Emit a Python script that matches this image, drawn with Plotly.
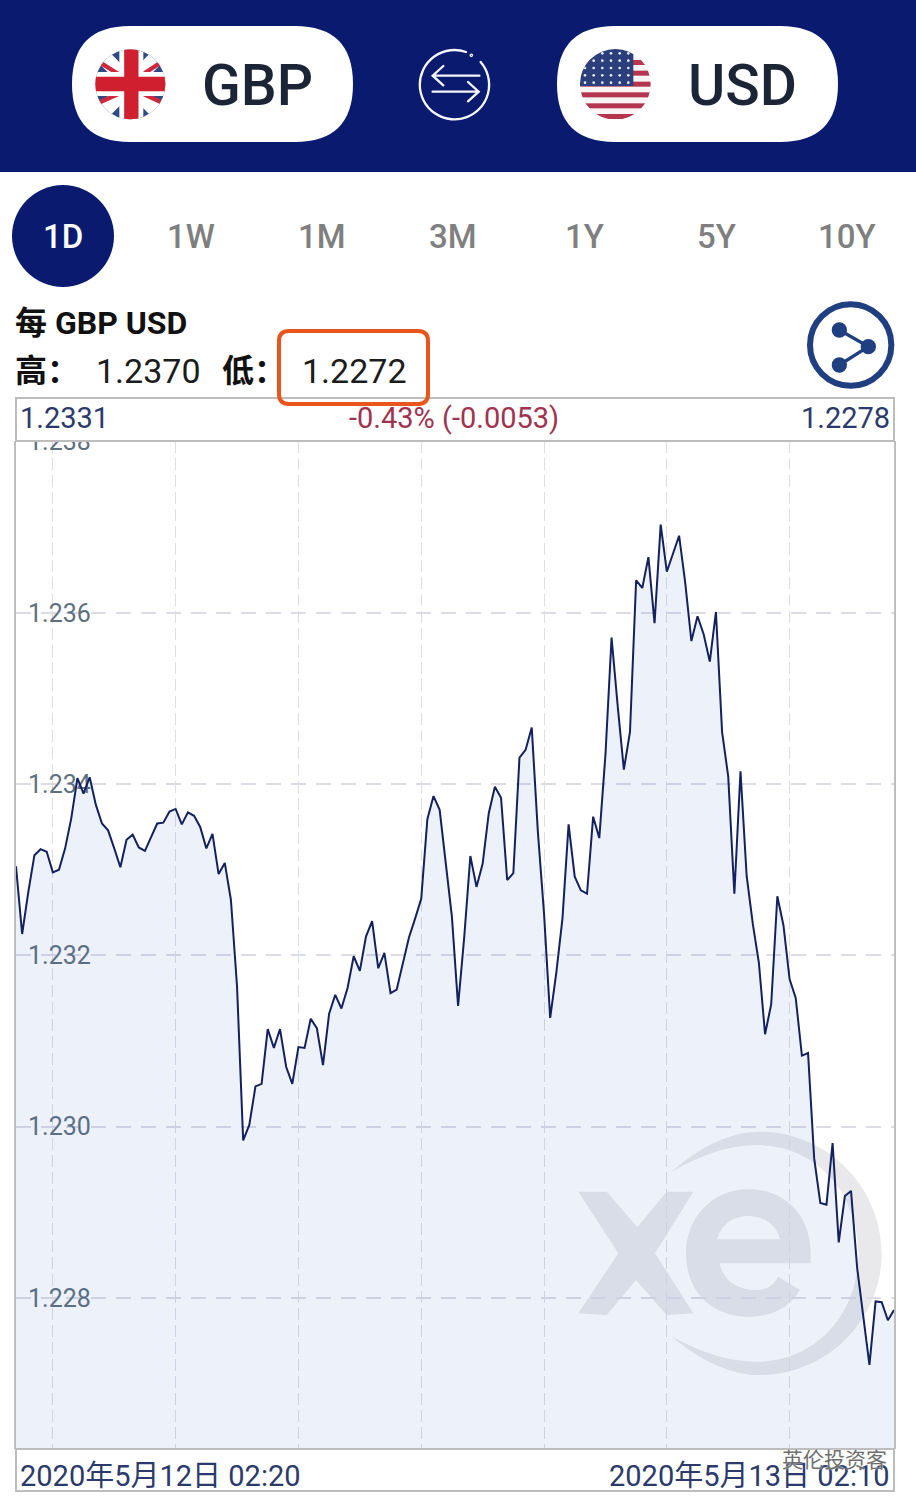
#!/usr/bin/env python
# coding: utf-8
import base64

import pandas as pd
import plotly.graph_objects as go


### data
rates = [
    1.23304, 1.23225, 1.23274, 1.23317, 1.23324, 1.23321, 1.23297, 1.23300, 1.23325, 1.23360,
    1.23407, 1.23389, 1.23408, 1.23376, 1.23354, 1.23346, 1.23325, 1.23303, 1.23335, 1.23341,
    1.23326, 1.23322, 1.23338, 1.23354, 1.23355, 1.23368, 1.23371, 1.23353, 1.23367, 1.23363,
    1.23350, 1.23325, 1.23342, 1.23295, 1.23308, 1.23265, 1.23164, 1.22984, 1.23002, 1.23047,
    1.23050, 1.23114, 1.23092, 1.23114, 1.23070, 1.23050, 1.23093, 1.23092, 1.23126, 1.23115,
    1.23072, 1.23132, 1.23154, 1.23138, 1.23162, 1.23199, 1.23182, 1.23222, 1.23240, 1.23185,
    1.23203, 1.23156, 1.23160, 1.23191, 1.23221, 1.23243, 1.23266, 1.23359, 1.23386, 1.23370,
    1.23307, 1.23245, 1.23141, 1.23221, 1.23316, 1.23280, 1.23307, 1.23366, 1.23397, 1.23384,
    1.23288, 1.23296, 1.23431, 1.23440, 1.23466, 1.23344, 1.23249, 1.23127, 1.23180, 1.23243,
    1.23353, 1.23292, 1.23276, 1.23272, 1.23362, 1.23337, 1.23434, 1.23571, 1.23491, 1.23417,
    1.23461, 1.23638, 1.23629, 1.23665, 1.23588, 1.23703, 1.23648, 1.23670, 1.23690, 1.23635,
    1.23567, 1.23596, 1.23575, 1.23543, 1.23601, 1.23461, 1.23409, 1.23272, 1.23415, 1.23293,
    1.23237, 1.23191, 1.23108, 1.23143, 1.23269, 1.23235, 1.23172, 1.23150, 1.23083, 1.23086,
    1.22963, 1.22911, 1.22909, 1.22981, 1.22865, 1.22919, 1.22925, 1.22835, 1.22777, 1.22722,
    1.22796, 1.22795, 1.22774, 1.22786,
]
times = pd.date_range('2020-05-12 02:20', periods=len(rates), freq='10min')
grid_times = ['2020-05-12 03:20', '2020-05-12 06:40', '2020-05-12 10:00', '2020-05-12 13:20',
              '2020-05-12 16:40', '2020-05-12 20:00', '2020-05-12 23:20']
y_ticks = [1.228, 1.230, 1.232, 1.234, 1.236, 1.238]
tabs = ['1W', '1M', '3M', '1Y', '5Y', '10Y']
tab_x = [191, 322, 453, 584, 716, 847]

W, H = 916, 1504
NAVY = '#0a1a6e'
INK = '#2b3a6b'
FONT = 'Roboto, Noto Sans CJK SC, sans-serif'


### helpers - everything in screen pixels, top left origin
def fx(x):
    return x / W


def fy(y):
    return 1 - y / H


def rounded(x0, y0, x1, y1, r):
    return (f'M{fx(x0 + r)},{fy(y0)} L{fx(x1 - r)},{fy(y0)} Q{fx(x1)},{fy(y0)} {fx(x1)},{fy(y0 + r)} '
            f'L{fx(x1)},{fy(y1 - r)} Q{fx(x1)},{fy(y1)} {fx(x1 - r)},{fy(y1)} '
            f'L{fx(x0 + r)},{fy(y1)} Q{fx(x0)},{fy(y1)} {fx(x0)},{fy(y1 - r)} '
            f'L{fx(x0)},{fy(y0 + r)} Q{fx(x0)},{fy(y0)} {fx(x0 + r)},{fy(y0)} Z')


shapes = []
images = []
notes = []


def box(x0, y0, x1, y1, fill, line=None, width=0, layer='below'):
    shapes.append(dict(type='rect', xref='paper', yref='paper', x0=fx(x0), x1=fx(x1), y0=fy(y1), y1=fy(y0),
                       fillcolor=fill, line=dict(color=line, width=width), layer=layer))


def round_box(x0, y0, x1, y1, r, fill, line=None, width=0, layer='below'):
    shapes.append(dict(type='path', xref='paper', yref='paper', path=rounded(x0, y0, x1, y1, r),
                       fillcolor=fill, line=dict(color=line, width=width), layer=layer))


def text(x, y, s, size, color, anchor='left', weight=400, shadow=None):
    font = dict(family=FONT, size=size, color=color, weight=weight)
    if shadow:
        font['shadow'] = shadow
    # annotations keep about 2px of padding round the text
    shift = {'left': -2, 'right': 2, 'center': 0}[anchor]
    notes.append(dict(xref='paper', yref='paper', x=fx(x + shift), y=fy(y), text=s, showarrow=False, font=font,
                      xanchor=anchor, yanchor='middle', borderpad=0))


# icons: svg body drawn in a 3x coordinate box
def icon(x, y, w, h, body, layer='above'):
    svg = (f'<svg xmlns="http://www.w3.org/2000/svg" width="{w * 3}" height="{h * 3}" '
           f'viewBox="0 0 {w * 3} {h * 3}">{body}</svg>')
    src = 'data:image/svg+xml;base64,' + base64.b64encode(svg.encode()).decode()
    images.append(dict(source=src, xref='paper', yref='paper', x=fx(x), y=fy(y), sizex=w / W, sizey=h / H,
                       xanchor='left', yanchor='top', sizing='stretch', layer=layer))


### app header
box(0, 0, W, 172, NAVY)
round_box(72, 26, 353, 142, 58, 'white')
round_box(557, 26, 838, 142, 58, 'white')
text(257, 86, 'GBP', 57, '#1c2536', 'center', 500)
text(742, 86, 'USD', 57, '#1c2536', 'center', 500)

uk = ('<defs><clipPath id="c"><circle cx="151" cy="163" r="105"/></clipPath></defs><g clip-path="url(#c)">'
      '<rect width="300" height="300" fill="#2f4a85"/>'
      '<path d="M40,50 L262,275 M262,50 L40,275" stroke="#fff" stroke-width="46"/>'
      '<path d="M40,85 L120,135 M262,85 L185,135 M40,225 L120,190 M262,225 L185,190" stroke="#d0283c" stroke-width="13"/>'
      '<path d="M154,40 V290 M30,162 H280" stroke="#fff" stroke-width="72"/>'
      '<path d="M154,40 V290 M30,162 H280" stroke="#d0202f" stroke-width="43"/></g>')
icon(80, 30, 100, 100, uk)

stripes = ''.join(f'<rect x="30" y="{y}" width="240" height="15" fill="#b5354f"/>' for y in (90, 122, 155, 187, 220, 252))
stars = ''.join(f'<circle cx="{x}" cy="{y}" r="4" fill="#e8ecf6"/>'
                for y in range(70, 165, 22) for x in range(60, 205, 26))
us = ('<defs><clipPath id="c"><circle cx="151" cy="163" r="106"/></clipPath></defs><g clip-path="url(#c)">'
      f'<rect width="300" height="300" fill="#fbf4f4"/>{stripes}'
      f'<rect x="30" y="40" width="175" height="128" fill="#2a3f7c"/>{stars}</g>')
icon(565, 30, 100, 100, us)

swap = ('<g fill="none" stroke="#f4f6fb" stroke-width="7" stroke-linecap="round">'
        '<path d="M168,36 A104,104 0 1 0 212,66"/><circle cx="184" cy="46" r="2"/>'
        '<path d="M208,107 H68 M100,78 L68,107 L100,136"/>'
        '<path d="M68,155 H206 M174,126 L206,155 L174,184"/></g>')
icon(410, 40, 90, 90, swap)

### range tabs
shapes.append(dict(type='circle', xref='paper', yref='paper', x0=fx(12), x1=fx(114), y0=fy(287), y1=fy(185),
                   fillcolor=NAVY, line=dict(width=0), layer='below'))
text(63, 237, '1D', 33, 'white', 'center', 500)
for label, x in zip(tabs, tab_x):
    text(x, 237, label, 33, '#7f7f7f', 'center', 500)

### summary line
text(16, 323, '每 GBP USD', 32, '#111111', weight=700)
text(16, 371, '高：', 32, '#111111', weight=700)
text(97, 371, '1.2370', 34, '#1c1c1c')
text(223, 371, '低：', 32, '#111111', weight=700)
text(303, 371, '1.2272', 34, '#1c1c1c')

share = ('<circle cx="152" cy="150" r="122" fill="none" stroke="#1f3f80" stroke-width="18"/>'
         '<path d="M118,105 L205,155 L118,210" fill="none" stroke="#1f3f80" stroke-width="10"/>'
         '<circle cx="118" cy="105" r="23" fill="#1f3f80"/><circle cx="205" cy="155" r="23" fill="#1f3f80"/>'
         '<circle cx="118" cy="210" r="23" fill="#1f3f80"/>')
icon(800, 295, 100, 100, share)

### xe watermark, under the line
xe = ('<g fill="#e9e9eb" fill-rule="evenodd">'
      '<path d="M55,215 L140,215 L232,322 L320,215 L400,215 L285,400 L400,580 L320,585 L228,480 L140,585 L55,580 L175,400 Z"/>'
      '<path d="M752,430 L478,430 C490,480 530,510 590,510 C620,510 640,495 655,470 L720,510 C690,560 640,590 565,590 '
      'C450,590 378,510 378,400 C378,290 460,208 565,208 C680,208 752,290 752,400 Z '
      'M472,358 L660,358 C650,315 612,288 565,288 C518,288 482,315 472,358 Z"/>'
      '<path d="M335,155 C420,80 510,35 600,35 C800,35 965,200 965,400 C965,600 800,765 600,765 C510,765 420,720 335,650 '
      'C430,700 510,725 590,725 C770,725 895,580 895,400 C895,220 770,75 590,75 C510,75 420,105 335,155 Z"/></g>')
icon(560, 1120, 340, 270, xe, layer='below')

### panels above and below the plot, the top one cuts the 1.238 label
box(16, 398, 894, 441, 'white', '#bdbdbd', 2, 'above')
box(16, 1449, 894, 1491, 'white', '#bdbdbd', 2, 'above')
text(21, 418, '1.2331', 29, INK)
text(454, 418, '-0.43% (-0.0053)', 29, '#a0334f', 'center')
text(889, 418, '1.2278', 29, INK, 'right')
text(21, 1476, '2020年5月12日 02:20', 29, INK)
text(889, 1476, '2020年5月13日 02:10', 29, INK, 'right')

### orange marker box
round_box(279, 331, 428, 404, 10, 'rgba(0,0,0,0)', '#e8561b', 4, 'above')

### wechat stamp
text(886, 1460, '英伦投资客', 21, '#6f6f6f', 'right', shadow='0 0 2px #ffffff')
stamp = ('<g fill="none" stroke="#c8c8c8" stroke-width="3" stroke-dasharray="6 3">'
         '<ellipse cx="32" cy="28" rx="24" ry="20"/><ellipse cx="62" cy="48" rx="18" ry="15"/></g>')
icon(736, 1448, 32, 26, stamp)

### chart
trace = go.Scatter(x=times, y=rates, mode='lines',
                   line=dict(color='#14215f', width=2),
                   fill='tozeroy', fillcolor='rgba(55,95,195,0.09)',
                   hoverinfo='x+y')

layout = go.Layout(
    width=W, height=H, autosize=False,
    margin=dict(l=0, r=0, t=0, b=0, pad=0, autoexpand=False),
    paper_bgcolor='white', plot_bgcolor='rgba(0,0,0,0)',
    showlegend=False,
    font=dict(family=FONT),
    xaxis=dict(domain=[fx(16), fx(894)], range=[times[0], times[-1]], type='date',
               tickmode='array', tickvals=grid_times, showticklabels=False, ticks='',
               showgrid=True, gridcolor='#dcdee6', gridwidth=1.2, griddash='12px,5px',
               showline=False, zeroline=False),
    yaxis=dict(domain=[fy(1449), fy(441)], range=[1.226237, 1.238006],
               tickmode='array', tickvals=y_ticks, tickformat='.3f',
               ticklabelposition='inside', ticklabeloverflow='allow', ticklabelstandoff=14,
               tickfont=dict(family=FONT, size=25, color='#5f6f80'), ticks='',
               showgrid=True, gridcolor='#dcdce4', gridwidth=1.5, griddash='15px,10px',
               showline=True, linecolor='#bdbdbd', linewidth=2, mirror=True,
               zeroline=False, layer='below traces'),
    shapes=shapes, images=images, annotations=notes,
)
fig = go.Figure([trace], layout)
fig.write_html('out.html', config=dict(displayModeBar=False),
               post_script="document.body.style.margin='0';document.body.style.overflow='hidden';")
